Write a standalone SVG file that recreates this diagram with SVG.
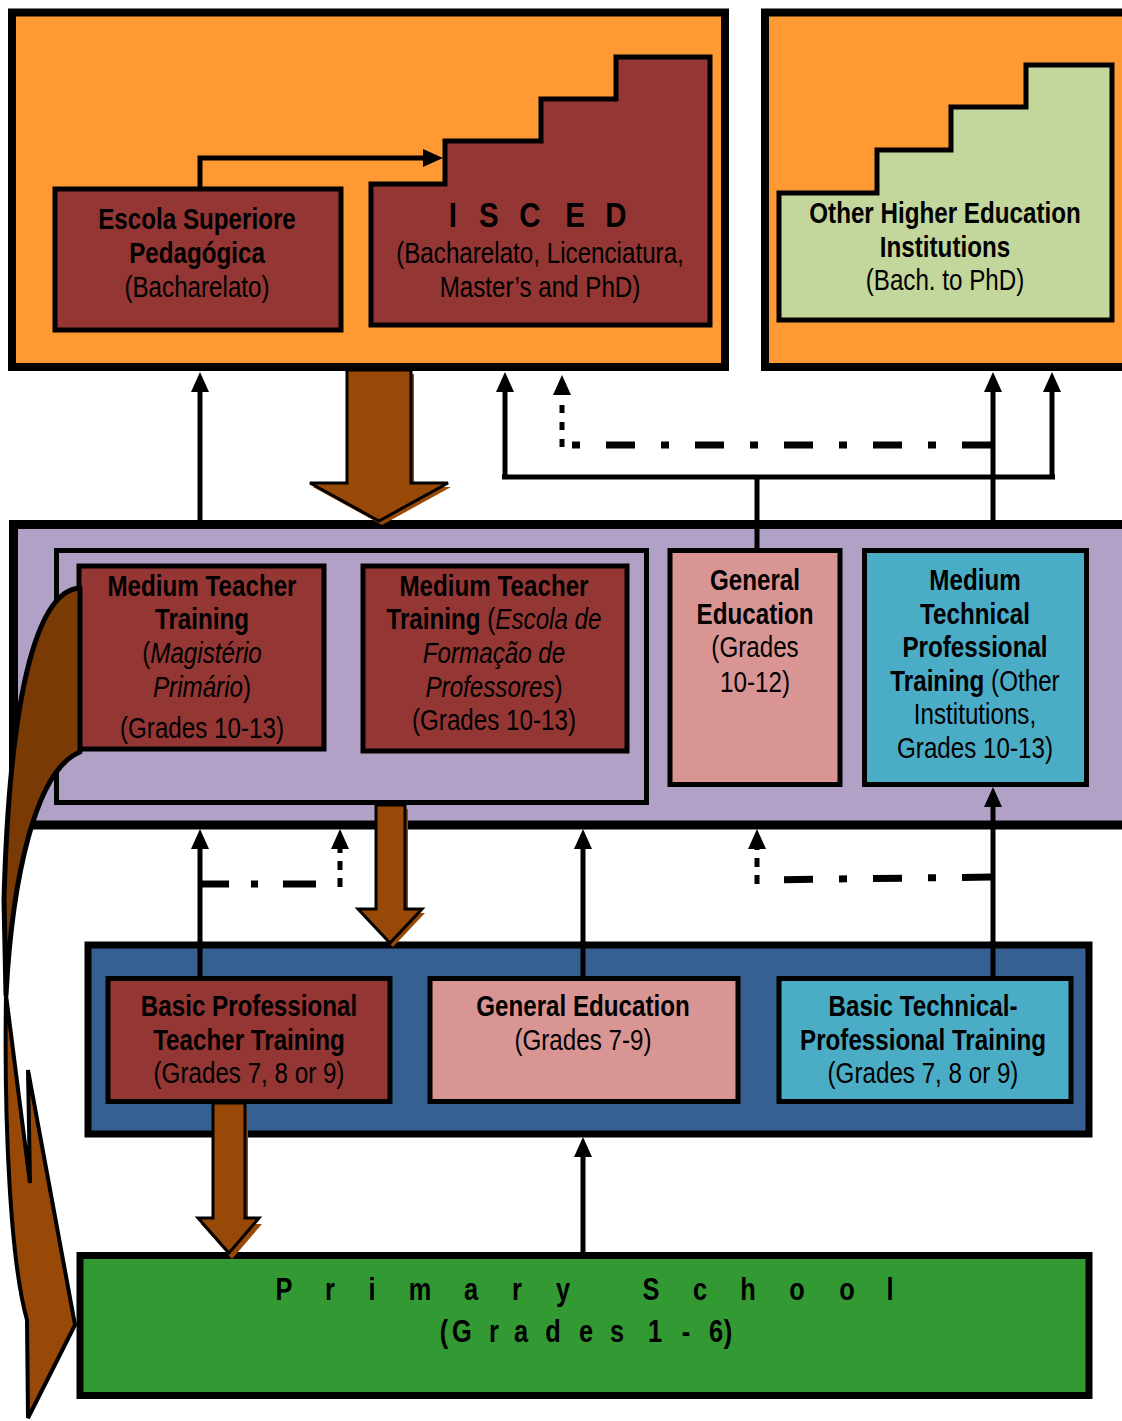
<svg xmlns="http://www.w3.org/2000/svg" width="1122" height="1421" viewBox="0 0 1122 1421">
<defs>
<style>
.t{font-family:"Liberation Sans",Arial,sans-serif;font-size:29.5px;text-anchor:middle;fill:#000}
.b{font-weight:bold}
.i{font-style:italic}
.box{stroke:#000;stroke-width:5}
.red{fill:#943634}
.pink{fill:#d99594}
.teal{fill:#4bacc6}
.ln{fill:none;stroke:#000;stroke-width:5}
.dd{fill:none;stroke:#000;stroke-width:7;stroke-dasharray:29 26 8 26}
.dv{fill:none;stroke:#000;stroke-width:5;stroke-dasharray:8 9}
.brown{fill:#984807}
</style>
<marker id="ah" viewBox="0 0 20 18" refX="0" refY="9" markerWidth="20" markerHeight="18" markerUnits="userSpaceOnUse" orient="auto">
<path d="M0,0 L20,9 L0,18 Z" fill="#000"/>
</marker>
</defs>
<rect width="1122" height="1421" fill="#fff"/>

<g id="higher-ed-panel">
<rect x="12" y="12.5" width="713" height="354.5" fill="#ff9933" stroke="#000" stroke-width="8"/>
</g>
<g id="other-higher-panel">
<rect x="765" y="12.5" width="400" height="354.5" fill="#ff9933" stroke="#000" stroke-width="8"/>
</g>
<g id="secondary-panel">
<rect x="13.5" y="524.5" width="1130" height="300.5" fill="#b2a1c7" stroke="#000" stroke-width="9"/>
<rect x="56.5" y="550.5" width="590" height="252" fill="#b2a1c7" stroke="#000" stroke-width="5"/>
</g>
<g id="basic-panel">
<rect x="88" y="945" width="1001" height="189" fill="#366092" stroke="#000" stroke-width="7"/>
</g>

<g id="escola-superiore">
<rect class="box red" x="55" y="189" width="286" height="141" stroke-width="6"/>
<text class="t b" transform="translate(197 0) scale(.82 1)" y="229">Escola Superiore</text>
<text class="t b" transform="translate(197 0) scale(.82 1)" y="263">Pedagógica</text>
<text class="t" transform="translate(197 0) scale(.82 1)" y="297">(Bacharelato)</text>
</g>

<g id="isced">
<path class="box red" d="M371,184 H445 V141 H541 V99 H616 V57 H710 V325 H371 Z"/>
<text class="t b" style="font-size:36px" transform="scale(.82 1)" x="552.4 596.3 646.3 701.2 751.2" y="227">ISCED</text>
<text class="t" transform="translate(540 0) scale(.82 1)" y="263">(Bacharelato, Licenciatura,</text>
<text class="t" transform="translate(540 0) scale(.82 1)" y="297">Master’s and PhD)</text>
</g>

<g id="other-higher">
<path class="box" fill="#c3d69b" d="M779,193 H877 V150 H951 V107 H1026 V65 H1112 V320 H779 Z"/>
<text class="t b" transform="translate(945 0) scale(.82 1)" y="223">Other Higher Education</text>
<text class="t b" transform="translate(945 0) scale(.82 1)" y="257">Institutions</text>
<text class="t" transform="translate(945 0) scale(.82 1)" y="290">(Bach. to PhD)</text>
</g>

<g id="mtt-magisterio">
<rect class="box red" x="79" y="566" width="245" height="183"/>
<text class="t b" transform="translate(202 0) scale(.82 1)" y="596">Medium Teacher</text>
<text class="t b" transform="translate(202 0) scale(.82 1)" y="629">Training</text>
<text class="t" transform="translate(202 0) scale(.82 1)" y="663">(<tspan class="i">Magistério</tspan></text>
<text class="t" transform="translate(202 0) scale(.82 1)" y="697"><tspan class="i">Primário</tspan>)</text>
<text class="t" transform="translate(202 0) scale(.82 1)" y="738">(Grades 10-13)</text>
</g>

<g id="mtt-escola">
<rect class="box red" x="363" y="566" width="264" height="185"/>
<text class="t b" transform="translate(494 0) scale(.82 1)" y="596">Medium Teacher</text>
<text class="t" transform="translate(494 0) scale(.82 1)" y="629"><tspan class="b">Training</tspan> (<tspan class="i">Escola de</tspan></text>
<text class="t i" transform="translate(494 0) scale(.82 1)" y="663">Formação de</text>
<text class="t" transform="translate(494 0) scale(.82 1)" y="697"><tspan class="i">Professores</tspan>)</text>
<text class="t" transform="translate(494 0) scale(.82 1)" y="730">(Grades 10-13)</text>
</g>

<g id="general-education-10-12">
<rect class="box pink" x="670" y="550.5" width="170" height="234"/>
<text class="t b" transform="translate(755 0) scale(.82 1)" y="590">General</text>
<text class="t b" transform="translate(755 0) scale(.82 1)" y="624">Education</text>
<text class="t" transform="translate(755 0) scale(.82 1)" y="657">(Grades</text>
<text class="t" transform="translate(755 0) scale(.82 1)" y="692">10-12)</text>
</g>

<g id="medium-technical">
<rect class="box teal" x="864.5" y="550.5" width="222" height="234"/>
<text class="t b" transform="translate(975 0) scale(.82 1)" y="590">Medium</text>
<text class="t b" transform="translate(975 0) scale(.82 1)" y="624">Technical</text>
<text class="t b" transform="translate(975 0) scale(.82 1)" y="657">Professional</text>
<text class="t" transform="translate(975 0) scale(.82 1)" y="691"><tspan class="b">Training</tspan> (Other</text>
<text class="t" transform="translate(975 0) scale(.82 1)" y="724">Institutions,</text>
<text class="t" transform="translate(975 0) scale(.82 1)" y="758">Grades 10-13)</text>
</g>

<g id="basic-professional-teacher">
<rect class="box red" x="108" y="978.5" width="282" height="123"/>
<text class="t b" transform="translate(249 0) scale(.82 1)" y="1016">Basic Professional</text>
<text class="t b" transform="translate(249 0) scale(.82 1)" y="1050">Teacher Training</text>
<text class="t" transform="translate(249 0) scale(.82 1)" y="1083">(Grades 7, 8 or 9)</text>
</g>

<g id="general-education-7-9">
<rect class="box pink" x="430" y="978.5" width="308" height="123"/>
<text class="t b" transform="translate(583 0) scale(.82 1)" y="1016">General Education</text>
<text class="t" transform="translate(583 0) scale(.82 1)" y="1050">(Grades 7-9)</text>
</g>

<g id="basic-technical">
<rect class="box teal" x="779" y="978.5" width="292" height="123"/>
<text class="t b" transform="translate(923 0) scale(.82 1)" y="1016">Basic Technical-</text>
<text class="t b" transform="translate(923 0) scale(.82 1)" y="1050">Professional Training</text>
<text class="t" transform="translate(923 0) scale(.82 1)" y="1083">(Grades 7, 8 or 9)</text>
</g>

<g id="primary-school">
<rect x="80" y="1255.5" width="1009" height="140" fill="#339933" stroke="#000" stroke-width="7"/>
<text class="t b" style="font-size:31px" transform="scale(.82 1)" x="346.3 402.4 453.7 512.2 574.4 630.5 686.6 793.9 853.7 912.2 972 1032.9 1085.4" y="1300">PrimarySchool</text>
<text class="t b" style="font-size:31px" transform="scale(.82 1)" x="541.5 563.4 602.4 635.4 674.4 714.6 752.4 798.8 836.6 873.2 887.8" y="1342">(Grades1-6)</text>
</g>

<g id="connectors">
<path class="ln" stroke-width="6" d="M200,189 V158 H423" marker-end="url(#ah)"/>
<path class="ln" d="M200,520 V392" marker-end="url(#ah)"/>
<path class="ln" d="M505,477 V392" marker-end="url(#ah)"/>
<path class="ln" stroke-width="7" d="M502,477 H1055"/>
<path class="ln" stroke-width="6" d="M757,477 V550"/>
<path class="ln" d="M1052,477 V392" marker-end="url(#ah)"/>
<path class="ln" d="M993,524 V392" marker-end="url(#ah)"/>
<path class="dd" d="M991,445 L566,445"/>
<path class="dv" d="M562,447 V396"/>
<path d="M553,395 L562,375 L571,395 Z" fill="#000"/>

<path class="ln" d="M200,979 V849" marker-end="url(#ah)"/>
<path class="dd" stroke-width="8" d="M202,884 L316,884" style="stroke-dasharray:27 22 7 25 40"/>
<path class="dv" d="M340,887 V849" style="stroke-dasharray:9 8"/>
<path d="M331,849 L340,829 L349,849 Z" fill="#000"/>
<path class="ln" d="M583,979 V849" marker-end="url(#ah)"/>
<path class="dd" stroke-width="8" d="M991,877 L760,880"/>
<path class="dv" d="M757,884 V849" style="stroke-dasharray:9 8"/>
<path d="M748,849 L757,829 L766,849 Z" fill="#000"/>
<path class="ln" d="M993,979 V807" marker-end="url(#ah)"/>
<path class="ln" d="M583,1255 V1157" marker-end="url(#ah)"/>

<g id="block-arrows">
<polygon class="brown" transform="translate(3,4)" points="347,370 411,370 411,483 448,483 379,521 310,483 347,483"/>
<polygon class="brown" stroke="#000" stroke-width="3" points="347,370 411,370 411,483 448,483 379,521 310,483 347,483"/>
<polygon class="brown" transform="translate(3,4)" points="376,805 405,805 405,909 422,909 390,943 358,909 376,909"/>
<polygon class="brown" stroke="#000" stroke-width="3" points="376,805 405,805 405,909 422,909 390,943 358,909 376,909"/>
<polygon class="brown" transform="translate(3,6)" points="213,1103 245,1103 245,1218 259,1218 229,1253 198,1218 213,1218"/>
<polygon class="brown" stroke="#000" stroke-width="3" points="213,1103 245,1103 245,1218 259,1218 229,1253 198,1218 213,1218"/>
</g>

<g id="curved-arrow">
<path d="M80,588 C40,590 10,680 4,900 L6,995 C12,880 35,770 80,752 Z" fill="#7a3a05" stroke="#000" stroke-width="5" stroke-linejoin="round"/>
<path d="M6,995 C4,1120 10,1260 27,1320 L28,1418 L75,1325 L28,1070 L30,1183 Z" fill="#984807" stroke="#000" stroke-width="4"/>
</g>
</g>
</svg>
